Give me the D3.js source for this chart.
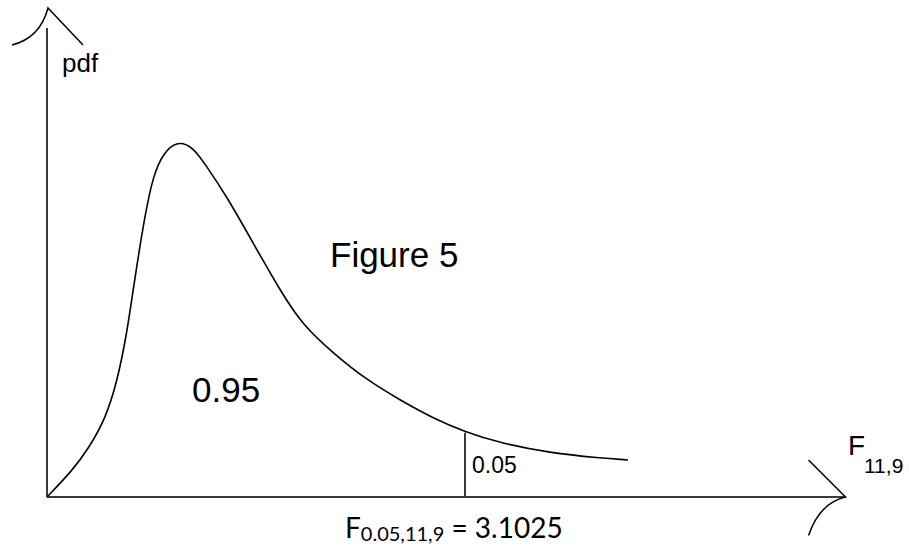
<!DOCTYPE html>
<html>
<head>
<meta charset="utf-8">
<script src="https://cdn.jsdelivr.net/npm/d3@7"></script>
<style>
  body { margin: 0; background: #fff; }
  svg { display: block; }
  text { font-family: "Liberation Sans", Arial, sans-serif; fill: #000; }
  .calib { font-family: Lato, "Open Sans", sans-serif; }
</style>
</head>
<body>
<svg id="chart" width="909" height="548"></svg>
<script>
// sketched F(11,9) density
const fValues = [0, 0.193, 0.304, 0.430, 0.520, 0.594, 0.653, 0.727, 0.787, 0.861, 0.969, 1.084, 1.173, 1.336,
  1.529, 1.729, 1.893, 2.123, 2.375, 2.620, 2.865, 3.1025, 3.362, 3.733, 4.104, 4.312];
const pdfValues = [0, 0.058, 0.102, 0.164, 0.245, 0.350, 0.469, 0.601, 0.684, 0.733, 0.760, 0.746, 0.710, 0.640,
  0.542, 0.441, 0.368, 0.307, 0.249, 0.207, 0.168, 0.139, 0.115, 0.094, 0.083, 0.079];

const critValue = 3.1025;   // F 0.05,11,9
const critPdf = 0.137;
const xAxisEnd = 5.927;     // where the x arrow tip sits
const yAxisEnd = 1;

const areaLabels = ["0.95", "0.05"];

const svg = d3.select("#chart");

const x = d3.scaleLinear().domain([0, critValue]).range([47, 465]);
const y = d3.scaleLinear().domain([0, 1]).range([497, 28]);

const curveData = fValues.map((f, i) => ({ f: f, p: pdfValues[i] }));

// axes
svg.append("line")
  .attr("x1", x(0)).attr("y1", y(0))
  .attr("x2", x(xAxisEnd)).attr("y2", y(0))
  .attr("stroke", "#3a3a3a").attr("stroke-width", 2);

svg.append("line")
  .attr("x1", x(0)).attr("y1", y(0))
  .attr("x2", x(0)).attr("y2", y(yAxisEnd))
  .attr("stroke", "#3a3a3a").attr("stroke-width", 2);

// arrow heads (a line on one side, a curl on the other)
const yTipX = x(0) + 1, yTipY = y(yAxisEnd) - 20;
svg.append("path")
  .attr("d", `M${yTipX - 36},${yTipY + 37} Q${yTipX - 8},${yTipY + 30} ${yTipX},${yTipY} L${yTipX + 35},${yTipY + 37}`)
  .attr("fill", "none").attr("stroke", "#000").attr("stroke-width", 1.5);

const xTipX = x(xAxisEnd), xTipY = y(0);
svg.append("path")
  .attr("d", `M${xTipX - 37},${xTipY - 37} L${xTipX},${xTipY} Q${xTipX - 26},${xTipY + 6} ${xTipX - 37},${xTipY + 38.5}`)
  .attr("fill", "none").attr("stroke", "#000").attr("stroke-width", 1.5);

// density curve
const line = d3.line()
  .x(d => x(d.f))
  .y(d => y(d.p))
  .curve(d3.curveBasis);

svg.append("path")
  .datum(curveData)
  .attr("d", line)
  .attr("fill", "none")
  .attr("stroke", "#000")
  .attr("stroke-width", 1.6);

// critical value marker
svg.append("line")
  .attr("x1", x(critValue)).attr("y1", y(critPdf))
  .attr("x2", x(critValue)).attr("y2", y(0))
  .attr("stroke", "#3a3a3a").attr("stroke-width", 2);

// labels
svg.append("text").attr("x", 62).attr("y", 72).style("font-size", "26px").text("pdf");

svg.append("text").attr("x", 330).attr("y", 267).style("font-size", "35px").text("Figure 5");

svg.append("text").attr("x", 192).attr("y", 402).style("font-size", "35px").text(areaLabels[0]);

svg.append("text").attr("x", x(critValue) + 7).attr("y", 473).style("font-size", "23px").text(areaLabels[1]);

const fLab = svg.append("text").attr("x", 848).attr("y", 455).style("font-size", "28px");
fLab.append("tspan").text("F");
fLab.append("tspan").attr("x", 864).attr("y", 473).style("font-size", "21px").text("11,9");

const critLab = svg.append("text").attr("class", "calib").attr("x", 345).attr("y", 538).style("font-size", "28px");
critLab.append("tspan").text("F");
critLab.append("tspan").attr("dy", 3).style("font-size", "20px").text("0.05,11,9");
critLab.append("tspan").attr("dy", -3).text(" = " + critValue.toFixed(4));
</script>
</body>
</html>
